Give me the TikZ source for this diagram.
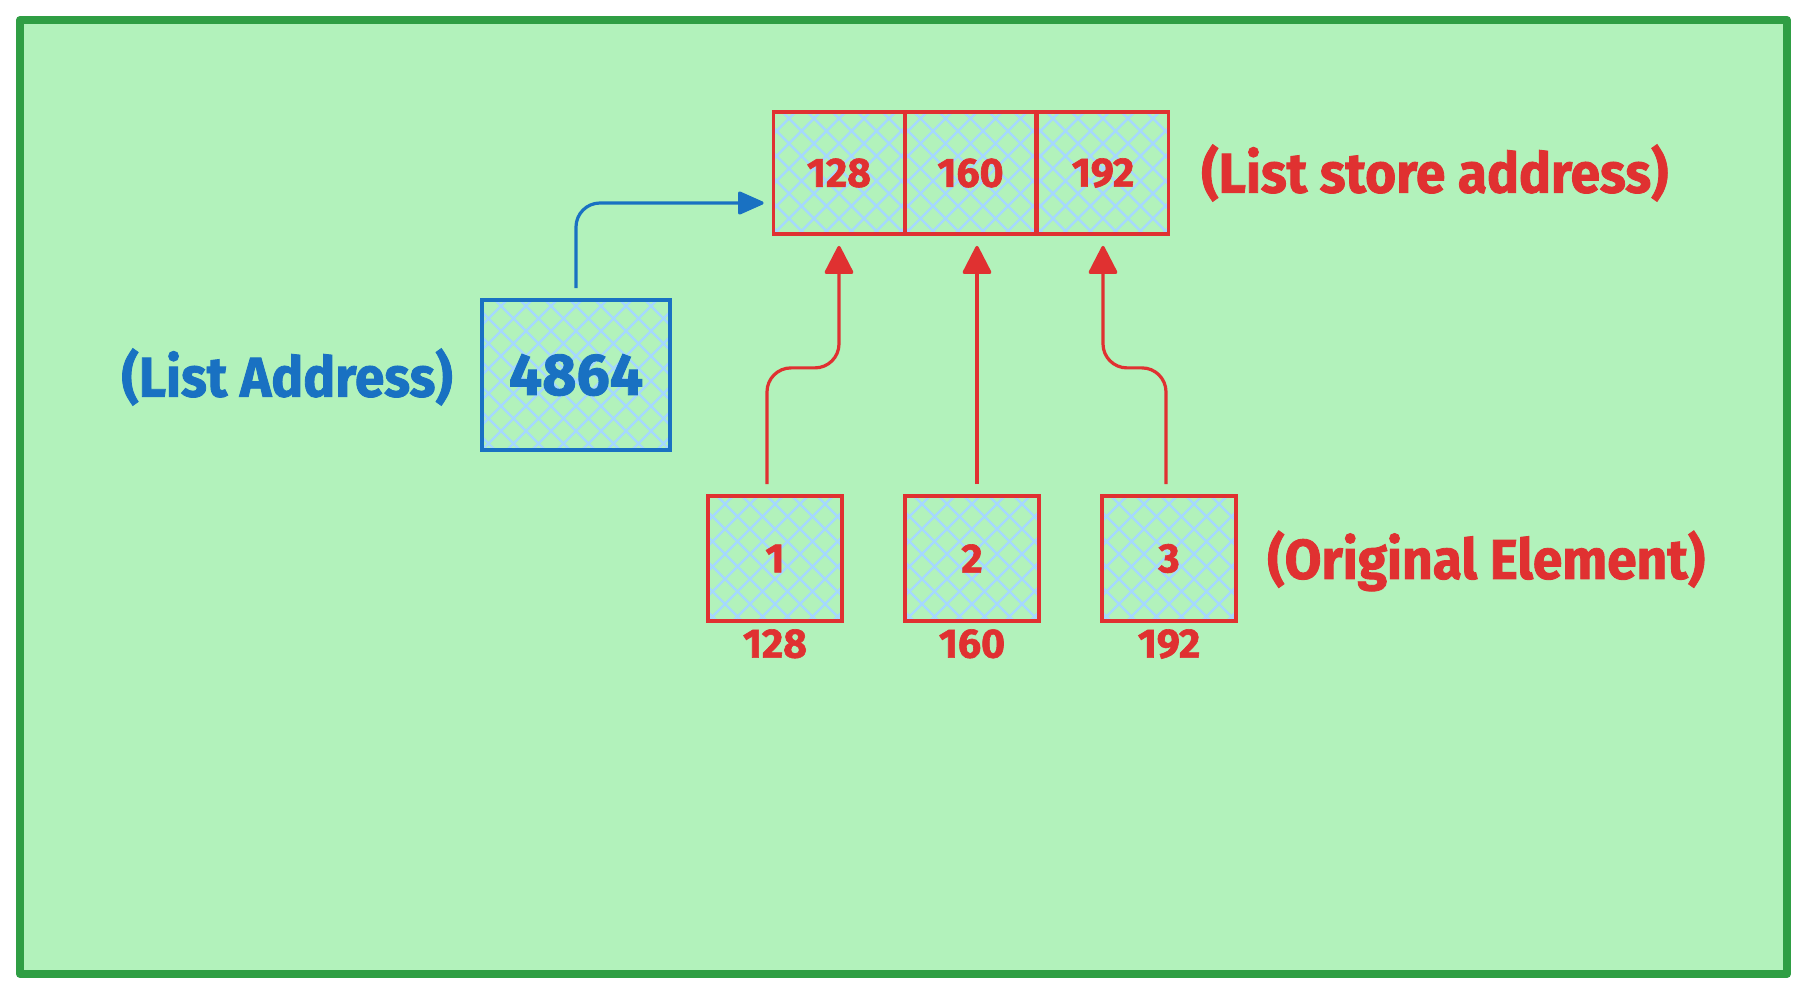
\documentclass[tikz,border=0pt]{standalone}
\usepackage{fontspec}
\setmainfont{Fira Sans}
\newfontfamily\sketchfont{Fira Sans}[BoldFeatures={FakeBold=1.5}]
\newfontfamily\notefont{Fira Sans}[FakeStretch=0.95, BoldFeatures={FakeBold=1.5}]
\usetikzlibrary{arrows.meta}

\definecolor{bggreen}{HTML}{B2F2BB}
\definecolor{framegreen}{HTML}{2F9E44}
\definecolor{sketchred}{HTML}{E03131}
\definecolor{sketchblue}{HTML}{1971C2}
\definecolor{hatchblue}{HTML}{A5D8FF}

\begin{document}
\begin{tikzpicture}[
        x=0.5pt, y=-0.5pt,
        hatch/.style={draw=hatchblue, line width=1.1pt},
        hatched/.style={path picture={
            \foreach \k in {-12,...,12} {
                \draw[hatch] ([xshift=\k*12.5pt]path picture bounding box.south west) -- ++(160pt,160pt);
                \draw[hatch] ([xshift=\k*12.5pt]path picture bounding box.south east) -- ++(-160pt,160pt);
            }}},
        cell/.style={draw=sketchred, line width=1.9pt, hatched, inner sep=0pt,
            minimum width=65.5pt, minimum height=61pt, text=sketchred,
            font=\sketchfont\bfseries\fontsize{20.5}{25}\selectfont},
        elem/.style={cell, minimum width=67pt, minimum height=62.5pt},
        addr/.style={text=sketchred, inner sep=0pt, label distance=3pt,
            font=\sketchfont\bfseries\fontsize{20.5}{25}\selectfont},
        note/.style={inner sep=0pt, font=\notefont\bfseries\fontsize{28}{32}\selectfont},
        redarrow/.style={draw=sketchred, line width=1.6pt, rounded corners=12pt,
            -{Triangle[length=15pt, width=15pt, round]}},
        bluearrow/.style={draw=sketchblue, line width=1.6pt, rounded corners=12pt,
            -{Triangle[length=14pt, width=12pt, round]}}
        ]
    \useasboundingbox (0,0) rectangle (1806,994);

    % Frame
    \draw[draw=framegreen, fill=bggreen, line width=4pt, line join=round] (20,20) rectangle (1787,974);

    % Define address cells of the list
    \node[cell] (a1) at (839,173) {128};
    \node[cell] (a2) at (970.5,173) {160};
    \node[cell] (a3) at (1103,173) {192};

    % Define the list address box
    \node[cell, draw=sketchblue, text=sketchblue, minimum width=94pt, minimum height=75pt,
        font=\sketchfont\bfseries\fontsize{29.5}{34}\selectfont] (L) at (576,375) {4864};

    % Define element nodes
    \node[elem, label={[addr]below:128}] (e1) at (775,558.5) {1};
    \node[elem, label={[addr]below:160}] (e2) at (972,558.5) {2};
    \node[elem, label={[addr]below:192}] (e3) at (1169,558.5) {3};

    % Define notes
    \node[note, text=sketchblue, anchor=east] (nL) at (453,377) {(List Address)};
    \node[note, text=sketchred, anchor=west] (nA) at (1201,173) {(List store address)};
    \node[note, text=sketchred, anchor=west] (nE) at (1267,561) {(Original Element)};

    % Draw edge from list address to first cell
    \draw[bluearrow] ([yshift=5pt]L.north) |- ([xshift=-4pt, yshift=-15pt]a1.west);

    % Draw edges from elements to address cells
    \draw[redarrow] ([xshift=-4pt, yshift=5pt]e1.north) |- ([yshift=-66pt]a1.south) -- ([yshift=-5pt]a1.south);
    \draw[redarrow] ([xshift=2.5pt, yshift=5pt]e2.north) -- ([xshift=2.5pt, yshift=-5pt]e2.north |- a2.south);
    \draw[redarrow] ([xshift=-1.5pt, yshift=5pt]e3.north) |- ([yshift=-66pt]a3.south) -- ([yshift=-5pt]a3.south);

\end{tikzpicture}
\end{document}
